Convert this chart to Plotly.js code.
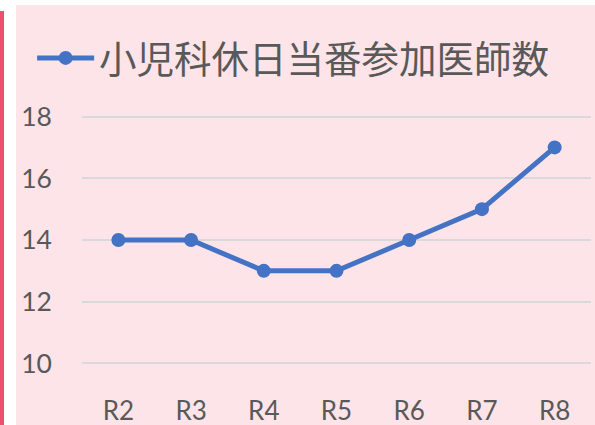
<!DOCTYPE html>
<html>
<head>
<meta charset="utf-8">
<script src="https://cdn.plot.ly/plotly-3.0.1.min.js"></script>
<style>
  html, body { margin: 0; padding: 0; background: #ffffff; width: 595px; height: 425px; overflow: hidden; }
  #bar { position: absolute; left: 0; top: 11px; width: 4px; height: 414px; background: #EE4F6F; }
  #chart { position: absolute; left: 16px; top: 5px; width: 579px; height: 420px; }
</style>
</head>
<body>
<div id="bar"></div>
<div id="chart"></div>
<script>
const categories = ["R2", "R3", "R4", "R5", "R6", "R7", "R8"];
const values = [14, 14, 13, 13, 14, 15, 17];
const seriesName = "小児科休日当番参加医師数";
const yTicks = [10, 12, 14, 16, 18];

const trace = {
  type: "scatter",
  mode: "lines+markers",
  x: categories,
  y: values,
  name: seriesName,
  line: { color: "#4472C4", width: 5 },
  marker: { color: "#4472C4", size: 14 },
  showlegend: true
};

const layout = {
  width: 579,
  height: 420,
  paper_bgcolor: "#FCE4E8",
  plot_bgcolor: "#FCE4E8",
  margin: { l: 66, r: 4, t: 109.5, b: 59.5 },
  font: { family: "Lato, 'Noto Sans', sans-serif", color: "#595959", size: 26 },
  showlegend: true,
  legend: {
    x: -0.098, xanchor: "left",
    y: 1.228, yanchor: "middle",
    orientation: "h",
    bgcolor: "rgba(0,0,0,0)",
    itemwidth: 57,
    font: { family: "'Noto Sans CJK JP', sans-serif", size: 37.5, color: "#595959" }
  },
  xaxis: {
    type: "category",
    showgrid: false,
    zeroline: false,
    showline: false,
    ticks: "",
    ticklabelstandoff: 28,
    tickfont: { size: 26, color: "#595959" },
    range: [-0.5, 6.5]
  },
  yaxis: {
    range: [9.95, 18.05],
    tickvals: yTicks,
    showgrid: true,
    gridcolor: "#D9D9D9",
    gridwidth: 2,
    zeroline: false,
    showline: false,
    ticks: "",
    ticklabelstandoff: 29,
    tickfont: { size: 26.5, color: "#595959" }
  }
};

Plotly.newPlot("chart", [trace], layout, { displayModeBar: false, staticPlot: true });
</script>
</body>
</html>
